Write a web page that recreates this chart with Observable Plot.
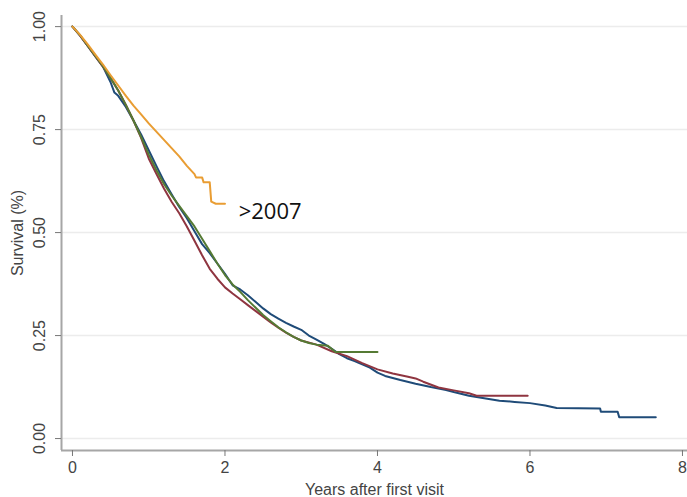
<!DOCTYPE html>
<html><head><meta charset="utf-8">
<script src="https://cdn.jsdelivr.net/npm/d3@7"></script>
<script src="https://cdn.jsdelivr.net/npm/@observablehq/plot@0.6"></script>
<style>
html,body{margin:0;padding:0;background:#fff;}
</style>
</head><body><div id="chart"></div>
<script>
// Series: [years, survival]
const seriesBlue = [
  [0,1.0],[0.1,0.978],[0.2,0.953],[0.3,0.928],[0.4,0.903],[0.5,0.865],[0.55,0.84],[0.6,0.832],
  [0.7,0.805],[0.8,0.772],[0.9,0.738],[1.0,0.7],[1.1,0.662],[1.2,0.625],[1.3,0.593],[1.4,0.562],
  [1.5,0.535],[1.6,0.503],[1.7,0.472],[1.8,0.45],[1.9,0.425],[2.0,0.4],[2.1,0.372],[2.2,0.362],
  [2.3,0.348],[2.4,0.332],[2.5,0.316],[2.6,0.302],[2.7,0.291],[2.8,0.281],[2.9,0.272],[3.0,0.264],
  [3.1,0.25],[3.2,0.24],[3.3,0.23],[3.4,0.218],[3.5,0.205],[3.6,0.195],[3.7,0.188],[3.8,0.18],
  [3.9,0.172],[4.0,0.16],[4.1,0.152],[4.2,0.147],[4.3,0.142],[4.5,0.133],[4.7,0.125],[4.9,0.118],
  [5.0,0.113],[5.2,0.104],[5.4,0.098],[5.6,0.092],[5.8,0.089],[6.0,0.086],[6.2,0.08],[6.35,0.074],
  [6.92,0.073],[6.93,0.065],[7.15,0.065],[7.17,0.052],[7.65,0.052]
];
const seriesRed = [
  [0,1.0],[0.1,0.978],[0.2,0.953],[0.3,0.928],[0.4,0.903],[0.5,0.875],[0.6,0.845],[0.7,0.81],
  [0.8,0.772],[0.9,0.73],[1.0,0.68],[1.1,0.643],[1.2,0.607],[1.3,0.575],[1.4,0.547],[1.5,0.515],
  [1.6,0.48],[1.7,0.445],[1.8,0.412],[1.9,0.388],[2.0,0.367],[2.1,0.352],[2.2,0.338],[2.3,0.324],
  [2.4,0.31],[2.5,0.296],[2.6,0.282],[2.7,0.269],[2.8,0.257],[2.9,0.247],[3.0,0.238],[3.2,0.228],
  [3.4,0.212],[3.6,0.2],[3.8,0.183],[4.0,0.168],[4.2,0.158],[4.4,0.15],[4.5,0.146],[4.6,0.138],
  [4.8,0.124],[5.0,0.117],[5.2,0.11],[5.3,0.104],[5.97,0.104]
];
const seriesGreen = [
  [0,1.0],[0.1,0.979],[0.2,0.954],[0.3,0.929],[0.4,0.904],[0.5,0.875],[0.6,0.845],[0.7,0.81],
  [0.8,0.772],[0.9,0.732],[1.0,0.69],[1.1,0.652],[1.2,0.618],[1.3,0.59],[1.4,0.565],[1.5,0.54],
  [1.6,0.515],[1.7,0.485],[1.8,0.455],[1.9,0.425],[2.0,0.397],[2.1,0.374],[2.2,0.356],[2.3,0.336],
  [2.4,0.318],[2.5,0.3],[2.6,0.285],[2.7,0.27],[2.8,0.258],[2.9,0.247],[3.0,0.238],[3.1,0.232],
  [3.2,0.228],[3.35,0.225],[3.45,0.21],[4.0,0.21]
];
const seriesOrange = [
  [0,1.0],[0.1,0.98],[0.2,0.957],[0.3,0.932],[0.4,0.908],[0.5,0.882],[0.6,0.857],[0.7,0.832],
  [0.8,0.808],[0.9,0.787],[1.0,0.765],[1.1,0.745],[1.2,0.725],[1.3,0.705],[1.4,0.685],[1.5,0.662],
  [1.6,0.642],[1.62,0.634],[1.7,0.634],[1.72,0.622],[1.8,0.622],[1.82,0.575],[1.88,0.57],[2.0,0.57]
];
const seriesNames = ["group A", "group B", "group C", ">2007"];
const seriesColors = ["#1f4b78", "#8f3540", "#557a34", "#e99d33"];
const xTicks = [0, 2, 4, 6, 8];
const yTicks = [0, 0.25, 0.5, 0.75, 1];
const annotation = [{t: 2.18, s: 0.551, text: ">2007"}];

const rows = [];
[seriesBlue, seriesRed, seriesGreen, seriesOrange].forEach((arr, i) => {
  arr.forEach(([t, s]) => rows.push({series: seriesNames[i], t, s}));
});

const xDomain = [-0.144, 8.066];
const yDomain = [-0.029, 1.027];

const chart = Plot.plot({
  width: 687,
  height: 497,
  marginLeft: 61,
  marginRight: 0,
  marginTop: 15,
  marginBottom: 47,
  style: {fontFamily: "'Liberation Sans', Arial, sans-serif", fontSize: "16px", background: "#fff", color: "#444"},
  x: {domain: xDomain},
  y: {domain: yDomain},
  color: {domain: seriesNames, range: seriesColors},
  marks: [
    Plot.gridY(yTicks, {stroke: "#ececec", strokeOpacity: 1, strokeWidth: 1.5}),
    Plot.ruleX([xDomain[0]], {stroke: "#a6a6a6", strokeWidth: 2}),
    Plot.ruleY([yDomain[0]], {stroke: "#a6a6a6", strokeWidth: 2}),
    Plot.axisX(xTicks, {tickSize: 6, tickPadding: 5, stroke: "#777", fill: "#444",
      label: "Years after first visit", labelAnchor: "center", labelArrow: "none", labelOffset: 44}),
    Plot.axisY(yTicks, {tickSize: 6, tickPadding: 11, tickRotate: -90, stroke: "#777", fill: "#444",
      tickFormat: d3.format(".2f"),
      label: "Survival (%)", labelAnchor: "center", labelArrow: "none", labelOffset: 50}),
    Plot.line(rows, {x: "t", y: "s", z: "series", stroke: "series", strokeWidth: 2, curve: "linear"}),
    Plot.text(annotation, {x: "t", y: "s", text: "text", textAnchor: "start", fill: "#111",
      fontSize: 22, fontFamily: "'Open Sans', sans-serif"})
  ]
});
document.getElementById("chart").appendChild(chart);
</script>
</body></html>
